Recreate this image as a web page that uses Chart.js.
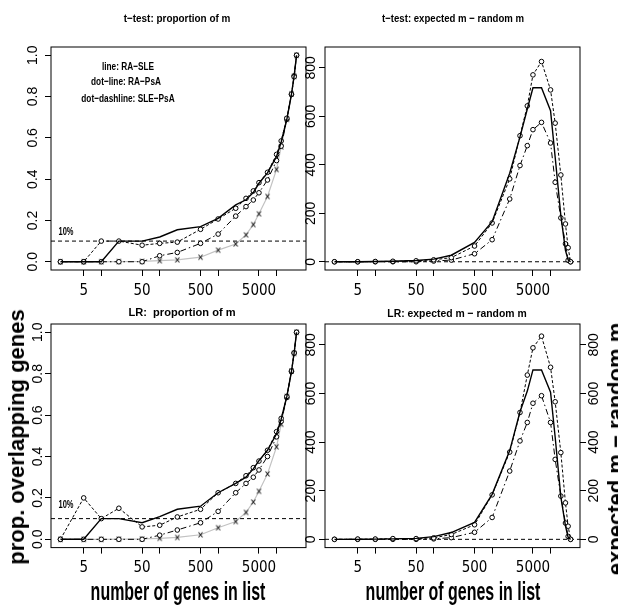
<!DOCTYPE html>
<html>
<head>
<meta charset="utf-8">
<script src="https://cdn.jsdelivr.net/npm/chart.js@4.4.1/dist/chart.umd.min.js"></script>
<style>
html, body { margin: 0; padding: 0; background: #fff; }
#wrap { position: relative; width: 618px; height: 606px; overflow: hidden; background: #fff; }
#wrap canvas { position: absolute; left: 0; top: 0; }
.lbl { position: absolute; white-space: pre; line-height: 1; font-family: 'Liberation Sans', Arial, sans-serif; font-weight: bold; color: #000; }
</style>
</head>
<body>
<div id="wrap">
  <canvas id="ttProp" width="618" height="606"></canvas>
  <canvas id="ttDiff" width="618" height="606"></canvas>
  <canvas id="lrProp" width="618" height="606"></canvas>
  <canvas id="lrDiff" width="618" height="606"></canvas>
</div>
<script>
// list sizes (x) shared by every panel
var listSizes = [2, 5, 10, 20, 50, 100, 200, 500, 1000, 2000, 3000, 4000, 5000, 7000, 10000, 12000, 15000, 18000, 20000, 22000];
var xTicks = [5, 10, 50, 100, 500, 1000, 5000, 10000];
var xTickLabels = ['5', '', '50', '', '500', '', '5000', ''];
var propTicks = [0, 0.2, 0.4, 0.6, 0.8, 1.0];
var diffTicks = [0, 200, 400, 600, 800];

// t-test: proportion of m
var ttPropRaSle  = [0, 0, 0, 0.1, 0.1, 0.12, 0.155, 0.17, 0.21, 0.275, 0.30, 0.335, 0.38, 0.43, 0.51, 0.58, 0.69, 0.81, 0.9, 1.0];
var ttPropRaPsa  = [0, 0, 0.1, 0.1, 0.08, 0.089, 0.095, 0.157, 0.207, 0.259, 0.307, 0.343, 0.383, 0.433, 0.52, 0.585, 0.695, 0.812, 0.896, 1.0];
var ttPropSlePsa = [0, 0, 0, 0, 0, 0.029, 0.045, 0.089, 0.134, 0.221, 0.267, 0.299, 0.334, 0.396, 0.49, 0.56, 0.69, 0.81, 0.9, 1.0];
// random expectation (grey x line)
var randomProp   = [0, 0, 0, 0.001, 0.002, 0.005, 0.009, 0.022, 0.056, 0.086, 0.13, 0.18, 0.232, 0.316, 0.447, 0.556, 0.69, 0.813, 0.898, 1.0];

// t-test: expected m - random m
var ttDiffRaSle  = [0, 0, 1, 2, 5, 11, 27, 80, 165, 365, 515, 630, 718, 718, 623, 431, 191, 47, 8, 0];
var ttDiffRaPsa  = [0, 0, 1, 2, 4, 8, 17, 65, 160, 342, 520, 643, 771, 826, 709, 572, 358, 156, 58, 0];
var ttDiffSlePsa = [0, 0, 0, 0, 0, 3, 7, 33, 91, 259, 397, 479, 545, 575, 490, 328, 181, 74, 6, 0];

// LR: proportion of m
var lrPropRaSle  = [0, 0, 0.1, 0.1, 0.08, 0.11, 0.145, 0.16, 0.225, 0.27, 0.30, 0.34, 0.38, 0.43, 0.51, 0.58, 0.69, 0.81, 0.9, 1.0];
var lrPropRaPsa  = [0, 0.2, 0.1, 0.15, 0.06, 0.068, 0.108, 0.145, 0.225, 0.27, 0.307, 0.346, 0.378, 0.43, 0.52, 0.584, 0.69, 0.813, 0.9, 1.0];
var lrPropSlePsa = [0, 0, 0, 0, 0, 0.02, 0.045, 0.08, 0.135, 0.225, 0.27, 0.30, 0.335, 0.40, 0.495, 0.57, 0.685, 0.81, 0.9, 1.0];

// LR: expected m - random m
var lrDiffRaSle  = [0, 0, 1, 2, 4, 11, 28, 70, 185, 365, 525, 610, 697, 697, 605, 420, 175, 55, 8, 0];
var lrDiffRaPsa  = [0, 1, 1, 3, 3, 6, 20, 60, 183, 359, 522, 676, 788, 836, 708, 566, 357, 150, 54, 0];
var lrDiffSlePsa = [0, 0, 0, 0, 0, 2, 7, 29, 90, 281, 405, 481, 560, 591, 481, 329, 178, 67, 12, 0];

var propCutoff = 0.1;
var diffCutoff = 0;

var xMin = 1.378, xMax = 31920;

// small "x" marker image for the random line
function crossMarker() {
    var c = document.createElement('canvas');
    c.width = 7; c.height = 8;
    var g = c.getContext('2d');
    g.strokeStyle = '#222';
    g.lineWidth = 1.1;
    g.beginPath();
    g.moveTo(1.5, 1.5); g.lineTo(5.5, 6.5);
    g.moveTo(5.5, 1.5); g.lineTo(1.5, 6.5);
    g.stroke();
    return c;
}
var crossImg = crossMarker();

function pts(arr) {
    return listSizes.map(function(x, i) { return {x: x, y: arr[i]}; });
}

var framePlugin = {
    id: 'frame',
    afterDraw: function(chart) {
        var a = chart.chartArea, ctx = chart.ctx;
        ctx.save();
        ctx.strokeStyle = '#000';
        ctx.lineWidth = 1;
        ctx.strokeRect(a.left, a.top, a.right - a.left, a.bottom - a.top);
        ctx.restore();
    }
};

function yScale(min, max, ticks, fmt, pad, position) {
    return {
        type: 'linear',
        position: position,
        min: min, max: max,
        bounds: 'data',
        afterBuildTicks: function(s) { s.ticks = ticks.map(function(v) { return {value: v}; }); },
        afterFit: function(s) { s.width = position === 'right' ? 36 : 44; },
        ticks: {
            minRotation: 90, maxRotation: 90,
            crossAlign: 'center',
            padding: pad,
            color: '#000',
            font: {family: "'Liberation Sans', Arial, sans-serif", size: 14},
            callback: fmt
        },
        grid: {drawOnChartArea: false, drawTicks: true, tickLength: 6, color: '#000', lineWidth: 1},
        border: {display: false}
    };
}

function xScale() {
    return {
        type: 'logarithmic',
        min: xMin, max: xMax,
        bounds: 'data',
        afterBuildTicks: function(s) { s.ticks = xTicks.map(function(v) { return {value: v}; }); },
        afterFit: function(s) { s.height = 34; },
        ticks: {
            autoSkip: false, maxRotation: 0, minRotation: 0,
            padding: 6,
            color: '#000',
            font: {family: "'Liberation Sans Narrow', 'Arial Narrow', 'DejaVu Sans Condensed', 'Liberation Sans', sans-serif", size: 15},
            callback: function(v, i) { return xTickLabels[i]; }
        },
        grid: {drawOnChartArea: false, drawTicks: true, tickLength: 6, color: '#000', lineWidth: 1},
        border: {display: false}
    };
}

function panel(id, frame, isProp, raSle, raPsa, slePsa, yPad, rightAxis) {
    var circles = {pointStyle: 'circle', pointRadius: 2.3, pointBorderWidth: 1,
                   pointBorderColor: '#000', pointBackgroundColor: '#fff'};
    var datasets = [
        {label: 'RA-SLE', data: pts(raSle), borderColor: '#000', borderWidth: 1.4, pointRadius: 0, tension: 0},
        Object.assign({label: 'RA-PsA', data: pts(raPsa), borderColor: '#000', borderWidth: 1, borderDash: [3, 2], tension: 0}, circles),
        Object.assign({label: 'SLE-PsA', data: pts(slePsa), borderColor: '#000', borderWidth: 1, borderDash: [6, 3, 1.5, 3], tension: 0}, circles)
    ];
    if (isProp) {
        datasets.push({label: 'random', data: pts(randomProp), borderColor: '#c2c2c2', borderWidth: 1.2,
                       pointStyle: crossImg, pointRadius: 3, tension: 0});
    }
    var cut = isProp ? propCutoff : diffCutoff;
    datasets.push({label: 'cutoff', data: [{x: xMin, y: cut}, {x: xMax, y: cut}], borderColor: '#000',
                   borderWidth: 1, borderDash: [4, 3], pointRadius: 0});

    var scales = {x: xScale()};
    if (isProp) {
        scales.y = yScale(-0.04, 1.04, propTicks, function(v) { return v.toFixed(1); }, yPad, 'left');
    } else {
        scales.y = yScale(-34, 886, diffTicks, function(v) { return String(v); }, yPad, 'left');
        if (rightAxis) {
            scales.y2 = yScale(-34, 886, diffTicks, function(v) { return String(v); }, yPad, 'right');
        }
    }
    var rW = rightAxis ? 36 : 0;
    new Chart(document.getElementById(id).getContext('2d'), {
        type: 'line',
        data: {datasets: datasets},
        options: {
            responsive: false,
            animation: false,
            events: [],
            layout: {padding: {left: frame.l - 44, right: 618 - frame.r - rW, top: frame.t, bottom: 606 - frame.b - 34}},
            plugins: {legend: {display: false}, tooltip: {enabled: false}, title: {display: false}},
            scales: scales
        },
        plugins: [framePlugin]
    });
}

panel('ttProp', {l: 51, r: 306, t: 47, b: 270}, true, ttPropRaSle, ttPropRaPsa, ttPropSlePsa, 2.5, false);
panel('ttDiff', {l: 325, r: 580, t: 47, b: 270}, false, ttDiffRaSle, ttDiffRaPsa, ttDiffSlePsa, -3.7, false);
panel('lrProp', {l: 51, r: 306, t: 324, b: 547.6}, true, lrPropRaSle, lrPropRaPsa, lrPropSlePsa, -3, false);
panel('lrDiff', {l: 325, r: 580, t: 324, b: 547.6}, false, lrDiffRaSle, lrDiffRaPsa, lrDiffSlePsa, -3.7, true);

// text: titles, legend notes, axis titles
var texts = [
    {t: 't\u2212test: proportion of m', x: 176.7, y: 18.5, size: 11.5, w: 107},
    {t: 't\u2212test: expected m \u2212 random m', x: 452.5, y: 18.5, size: 11.5, w: 142},
    {t: 'LR:  proportion of m', x: 182, y: 313, size: 11.5, w: 107},
    {t: 'LR: expected m \u2212 random m', x: 457, y: 313.5, size: 11.5, w: 139},
    {t: 'line: RA\u2212SLE', x: 128, y: 67, size: 11.5, sx: 0.72},
    {t: 'dot\u2212line: RA\u2212PsA', x: 126, y: 82, size: 11.5, sx: 0.72},
    {t: 'dot\u2212dashline: SLE\u2212PsA', x: 128, y: 99, size: 11.5, sx: 0.72},
    {t: '10%', x: 65.8, y: 231, size: 11, w: 15},
    {t: '10%', x: 65.8, y: 504, size: 11, w: 15},
    {t: 'number of genes in list', x: 178, y: 591, size: 26, w: 175},
    {t: 'number of genes in list', x: 453, y: 591, size: 26, w: 175},
    {t: 'prop. overlapping genes', x: 16.5, y: 437, size: 22, rot: -90},
    {t: 'expected m \u2212 random m', x: 615.7, y: 448.5, size: 22, rot: -90}
];
var wrap = document.getElementById('wrap');
texts.forEach(function(s) {
    var d = document.createElement('div');
    d.className = 'lbl';
    d.textContent = s.t;
    d.style.fontSize = s.size + 'px';
    d.style.left = s.x + 'px';
    d.style.top = s.y + 'px';
    wrap.appendChild(d);
    var sx = s.sx || (s.w ? s.w / d.offsetWidth : 1);
    d.style.transform = 'translate(-50%, -50%) rotate(' + (s.rot || 0) + 'deg) scaleX(' + sx + ')';
});
</script>
</body>
</html>
